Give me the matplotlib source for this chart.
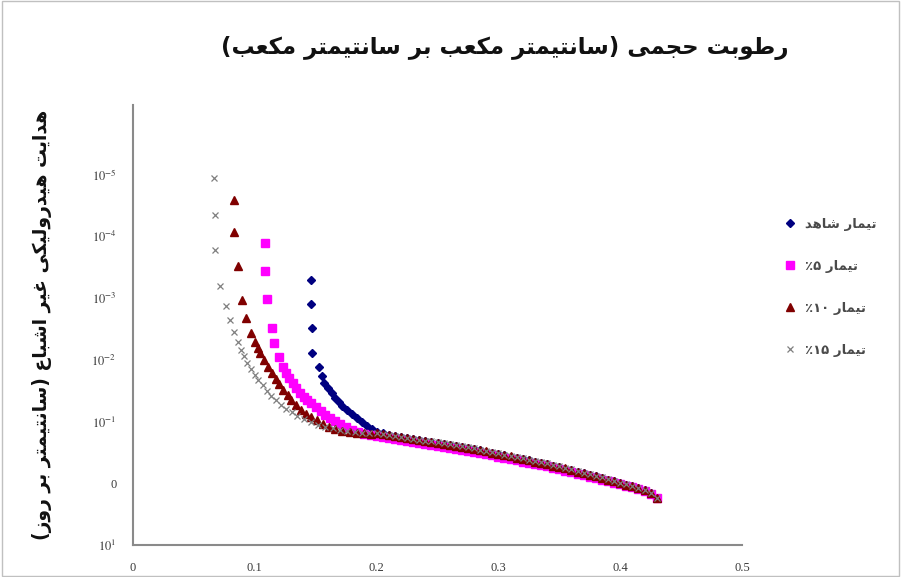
import matplotlib
matplotlib.use("Agg")
import matplotlib.pyplot as plt
from matplotlib.patches import Rectangle

# --- data ------------------------------------------------------------------
# shared theta grid for the long flat part of every curve
theta_tail = [0.200, 0.205, 0.210, 0.215, 0.220, 0.225, 0.230, 0.235, 0.240, 0.245,
              0.250, 0.255, 0.260, 0.265, 0.270, 0.275, 0.280, 0.285, 0.290, 0.295,
              0.300, 0.305, 0.310, 0.315, 0.320, 0.325, 0.330, 0.335, 0.340, 0.345,
              0.350, 0.355, 0.360, 0.365, 0.370, 0.375, 0.380, 0.385, 0.390, 0.395,
              0.400, 0.405, 0.410, 0.415, 0.420, 0.425, 0.430]

# control
theta_ctrl = [0.146, 0.146, 0.147, 0.147, 0.153, 0.155, 0.157, 0.160, 0.163, 0.166,
              0.169, 0.172, 0.176, 0.180, 0.184, 0.188, 0.192, 0.196] + theta_tail
k_ctrl = [5.1e-4, 1.24e-3, 3.0e-3, 7.7e-3, 1.30e-2, 1.82e-2, 2.37e-2, 2.85e-2, 3.44e-2, 4.14e-2,
          4.81e-2, 5.58e-2, 6.49e-2, 7.53e-2, 8.75e-2, 0.101, 0.118, 0.132,
          0.148, 0.155, 0.162, 0.169, 0.176, 0.184, 0.191, 0.198, 0.206, 0.214,
          0.222, 0.231, 0.240, 0.249, 0.259, 0.269, 0.280, 0.293, 0.307, 0.322,
          0.337, 0.353, 0.370, 0.388, 0.406, 0.426, 0.446, 0.467, 0.489, 0.518,
          0.548, 0.578, 0.612, 0.648, 0.688, 0.726, 0.766, 0.823, 0.873, 0.933,
          0.995, 1.055, 1.115, 1.195, 1.29, 1.45, 1.74]

# 5 %
theta_5 = [0.108, 0.108, 0.110, 0.114, 0.116, 0.120, 0.123, 0.126, 0.128, 0.131,
           0.134, 0.137, 0.140, 0.143, 0.146, 0.150, 0.154, 0.158, 0.162, 0.166,
           0.170, 0.175, 0.180, 0.185, 0.190, 0.195] + theta_tail
k_5 = [1.27e-4, 3.6e-4, 1.03e-3, 3.0e-3, 5.3e-3, 9.0e-3, 1.30e-2, 1.65e-2, 2.0e-2, 2.4e-2,
       2.9e-2, 3.4e-2, 4.0e-2, 4.5e-2, 5.0e-2, 5.8e-2, 6.7e-2, 7.7e-2, 8.8e-2, 0.099,
       0.110, 0.122, 0.137, 0.148, 0.158, 0.166,
       0.170, 0.176, 0.183, 0.190, 0.197, 0.205, 0.213, 0.221, 0.229, 0.238,
       0.247, 0.256, 0.266, 0.276, 0.287, 0.298, 0.309, 0.323, 0.338, 0.354,
       0.370, 0.387, 0.405, 0.424, 0.444, 0.465, 0.487, 0.509, 0.532, 0.562,
       0.593, 0.625, 0.660, 0.698, 0.738, 0.778, 0.818, 0.875, 0.925, 0.985,
       1.04, 1.10, 1.16, 1.23, 1.32, 1.47, 1.75]

# 10 %
theta_10 = [0.0833, 0.0833, 0.0858, 0.0891, 0.0924, 0.0965, 0.0998, 0.1025, 0.1045, 0.1075,
            0.1106, 0.1140, 0.1170, 0.1200, 0.1235, 0.1270, 0.1300, 0.1340, 0.1380, 0.1420,
            0.1460, 0.1510, 0.1560, 0.1610, 0.1660, 0.1720, 0.1780, 0.1840, 0.1900,
            0.1950] + theta_tail
k_10 = [2.56e-5, 8.45e-5, 3.0e-4, 1.07e-3, 2.09e-3, 3.66e-3, 5.1e-3, 6.4e-3, 7.7e-3, 1.0e-2,
        1.3e-2, 1.65e-2, 2.05e-2, 2.5e-2, 3.1e-2, 3.75e-2, 4.5e-2, 5.4e-2, 6.4e-2, 7.4e-2,
        8.4e-2, 9.6e-2, 0.108, 0.122, 0.134, 0.142, 0.148, 0.152, 0.155, 0.157,
        0.155, 0.160, 0.166, 0.172, 0.178, 0.185, 0.192, 0.199, 0.206, 0.214,
        0.222, 0.230, 0.239, 0.248, 0.258, 0.268, 0.278, 0.291, 0.305, 0.320,
        0.335, 0.351, 0.368, 0.386, 0.404, 0.424, 0.444, 0.465, 0.486, 0.515,
        0.545, 0.575, 0.608, 0.645, 0.684, 0.722, 0.762, 0.82, 0.87, 0.93,
        0.99, 1.05, 1.11, 1.19, 1.28, 1.44, 1.73]

# 15 %
theta_15 = [0.0668, 0.0677, 0.0677, 0.0718, 0.0767, 0.0800, 0.0833, 0.0858, 0.0883, 0.0910,
            0.0940, 0.0970, 0.1000, 0.1030, 0.1065, 0.1100, 0.1135, 0.1175, 0.1215, 0.1260,
            0.1305, 0.1350, 0.1400, 0.1460, 0.1520, 0.1580, 0.1640, 0.1700, 0.1760, 0.1820,
            0.1880, 0.1940] + theta_tail
k_15 = [1.13e-5, 4.5e-5, 1.66e-4, 6.3e-4, 1.34e-3, 2.25e-3, 3.53e-3, 5.1e-3, 6.9e-3, 8.8e-3,
        1.12e-2, 1.40e-2, 1.75e-2, 2.15e-2, 2.60e-2, 3.15e-2, 3.80e-2, 4.50e-2, 5.30e-2, 6.20e-2,
        7.10e-2, 8.00e-2, 9.00e-2, 0.102, 0.112, 0.121, 0.129, 0.136, 0.142, 0.147,
        0.151, 0.153,
        0.156, 0.160, 0.165, 0.170, 0.176, 0.182, 0.189, 0.196, 0.203, 0.210,
        0.218, 0.226, 0.234, 0.243, 0.252, 0.262, 0.272, 0.285, 0.298, 0.312,
        0.327, 0.343, 0.360, 0.377, 0.395, 0.414, 0.434, 0.455, 0.476, 0.504,
        0.533, 0.563, 0.595, 0.631, 0.670, 0.708, 0.748, 0.80, 0.855, 0.915,
        0.975, 1.035, 1.10, 1.175, 1.27, 1.43, 1.72]

x_ticks = [0, 0.1, 0.2, 0.3, 0.4, 0.5]
x_ticklabels = ["0", "0.1", "0.2", "0.3", "0.4", "0.5"]
y_ticks = [1e-5, 1e-4, 1e-3, 1e-2, 1e-1, 1e0, 1e1]
y_ticklabels = ["$10^{-5}$", "$10^{-4}$", "$10^{-3}$", "$10^{-2}$", "$10^{-1}$", "0", "$10^{1}$"]

x_title = "رطوبت حجمی (سانتیمتر مکعب بر سانتیمتر مکعب)"
y_title = "هدایت هیدرولیکی غیر اشباع (سانتیمتر بر روز)"
word_treat = "تیمار"
word_ctrl = "تیمار شاهد"


# --- minimal arabic/persian shaping (matplotlib does no RTL shaping) --------
FORMS = {  # isolated, final, initial, medial
    "ا": ("\uFE8D", "\uFE8E", None, None),
    "د": ("\uFEA9", "\uFEAA", None, None),
    "ر": ("\uFEAD", "\uFEAE", None, None),
    "ز": ("\uFEAF", "\uFEB0", None, None),
    "و": ("\uFEED", "\uFEEE", None, None),
    "ب": ("\uFE8F", "\uFE90", "\uFE91", "\uFE92"),
    "ت": ("\uFE95", "\uFE96", "\uFE97", "\uFE98"),
    "ج": ("\uFE9D", "\uFE9E", "\uFE9F", "\uFEA0"),
    "ح": ("\uFEA1", "\uFEA2", "\uFEA3", "\uFEA4"),
    "س": ("\uFEB1", "\uFEB2", "\uFEB3", "\uFEB4"),
    "ش": ("\uFEB5", "\uFEB6", "\uFEB7", "\uFEB8"),
    "ط": ("\uFEC1", "\uFEC2", "\uFEC3", "\uFEC4"),
    "ع": ("\uFEC9", "\uFECA", "\uFECB", "\uFECC"),
    "غ": ("\uFECD", "\uFECE", "\uFECF", "\uFED0"),
    "ل": ("\uFEDD", "\uFEDE", "\uFEDF", "\uFEE0"),
    "م": ("\uFEE1", "\uFEE2", "\uFEE3", "\uFEE4"),
    "ن": ("\uFEE5", "\uFEE6", "\uFEE7", "\uFEE8"),
    "ه": ("\uFEE9", "\uFEEA", "\uFEEB", "\uFEEC"),
    "ک": ("\uFB8E", "\uFB8F", "\uFB90", "\uFB91"),
    "ی": ("\uFBFC", "\uFBFD", "\uFBFE", "\uFBFF"),
}


def rtl(text):
    out = []
    for i, ch in enumerate(text):
        if ch not in FORMS:
            out.append(ch)
            continue
        prev = text[i - 1] if i > 0 else ""
        nxt = text[i + 1] if i + 1 < len(text) else ""
        joins_prev = prev in FORMS and FORMS[prev][2] is not None
        joins_next = FORMS[ch][2] is not None and nxt in FORMS
        iso, fin, ini, med = FORMS[ch]
        if joins_prev and joins_next:
            out.append(med)
        elif joins_prev:
            out.append(fin)
        elif joins_next:
            out.append(ini)
        else:
            out.append(iso)
    vis = "".join(reversed(out))
    return vis.translate(str.maketrans("()", ")("))


# --- plot -------------------------------------------------------------------
plt.rcParams["mathtext.fontset"] = "stix"
arabic = ["DejaVu Sans"]
serif = "Liberation Serif"
tick_col = "#3a3a3a"

fig = plt.figure(figsize=(9.01, 5.77), dpi=100)
ax = fig.add_axes([133 / 901, 1 - 545 / 577, (742 - 133) / 901, (545 - 105) / 577])

h_ctrl, = ax.plot(theta_ctrl, k_ctrl, ls="none", marker="D", ms=4.2, color="#000080")
h_5, = ax.plot(theta_5, k_5, ls="none", marker="s", ms=5.2, color="#ff00ff")
h_10, = ax.plot(theta_10, k_10, ls="none", marker="^", ms=5.5, color="#800000")
h_15, = ax.plot(theta_15, k_15, ls="none", marker="x", ms=5, mew=0.9, color="#7f7f7f")

ax.set_yscale("log")
ax.set_xlim(0, 0.5)
ax.set_ylim(10, 10 ** -6.13)
ax.set_xticks(x_ticks)
ax.set_xticklabels(x_ticklabels, fontfamily=serif, fontsize=9, color=tick_col)
ax.set_yticks(y_ticks)
ax.set_yticklabels(y_ticklabels, fontfamily=serif, fontsize=9, color=tick_col)
ax.minorticks_off()
ax.tick_params(length=0, pad=12)
for s in ("top", "right"):
    ax.spines[s].set_visible(False)
for s in ("left", "bottom"):
    ax.spines[s].set_color("#8a8a8a")
    ax.spines[s].set_linewidth(1.5)

fig.text(505 / 901, 1 - 48 / 577, rtl(x_title), family=arabic, fontsize=16.5,
         fontweight="bold", ha="center", va="center", color="#111111")
fig.text(42 / 901, 1 - 325 / 577, rtl(y_title), family=arabic, fontsize=13.5,
         fontweight="bold", ha="center", va="center", rotation=90, color="#111111")

labels = [rtl(word_ctrl), "٪۵ " + rtl(word_treat), "٪۱۰ " + rtl(word_treat),
          "٪۱۵ " + rtl(word_treat)]
fig.legend([h_ctrl, h_5, h_10, h_15], labels, loc="upper left",
           bbox_to_anchor=(772 / 901, 1 - 206 / 577), frameon=False,
           prop={"family": arabic, "size": 9.5, "weight": "bold"}, labelcolor="#4a4a4a",
           handlelength=1.0, handletextpad=0.6, labelspacing=2.2)

fig.add_artist(Rectangle((0.002, 0.002), 0.996, 0.996, transform=fig.transFigure,
                         fill=False, edgecolor="#c0c0c0", lw=1))

plt.savefig("out.png", dpi=100)
